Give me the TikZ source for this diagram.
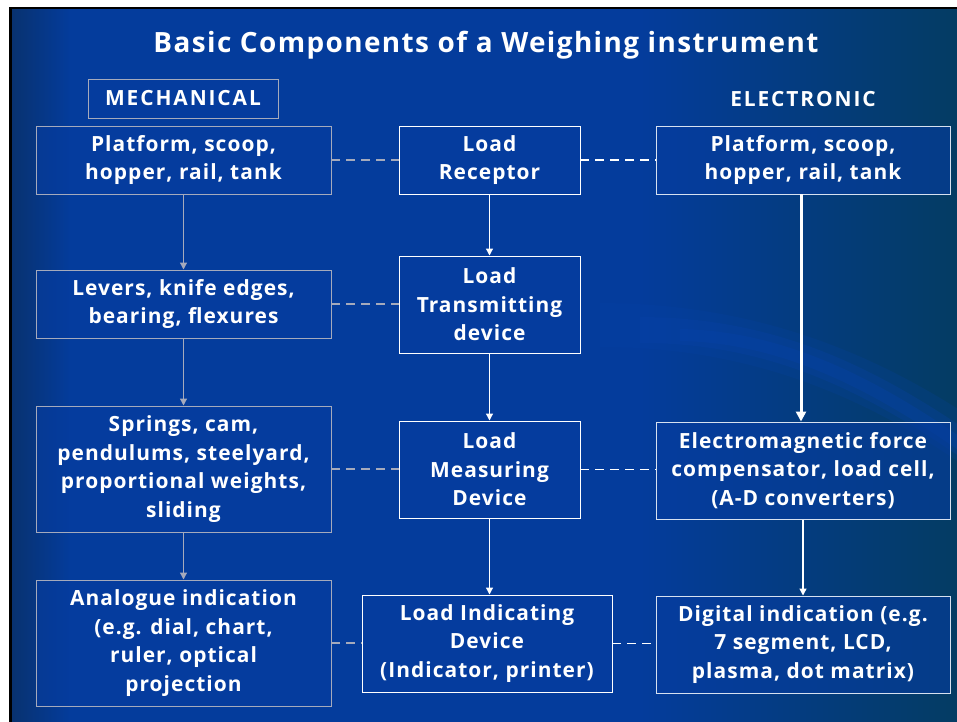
\documentclass[tikz,border=0pt]{standalone}
\usepackage{fontspec}
\setmainfont{Open Sans}[LetterSpace=5]
\usetikzlibrary{arrows.meta}

\definecolor{bgdark}{RGB}{8,50,112}
\definecolor{bgmid}{RGB}{4,60,156}
\definecolor{bgteal}{RGB}{4,60,98}
\definecolor{bgstreak}{RGB}{8,66,172}
\definecolor{mechline}{RGB}{165,170,188}
\definecolor{elecline}{RGB}{215,225,240}
\definecolor{boxfill}{RGB}{6,60,160}

\newcommand{\wbfont}{\fontsize{21}{28.5}\selectfont\bfseries}
\newcommand{\capsfont}{\fontsize{21}{24}\selectfont\bfseries\addfontfeatures{LetterSpace=9}}

\tikzset{
  basebox/.style={rectangle, inner sep=0pt, align=center, text=white,
    fill=boxfill, fill opacity=0.6, text opacity=1, line width=1pt, font=\wbfont},
  mechbox/.style={basebox, draw=mechline},
  corebox/.style={basebox, draw=white},
  elecbox/.style={basebox, draw=elecline},
  mecharrow/.style={draw=mechline, line width=1.3pt, -{Triangle[length=7pt,width=7pt]}},
  corearrow/.style={draw=white, line width=1.3pt, -{Triangle[length=7pt,width=7pt]}},
  thickarrow/.style={draw=white, line width=3pt, -{Triangle[length=10pt,width=10pt]}},
  mechlink/.style={draw=mechline, line width=1.3pt, dash pattern=on 9pt off 6pt},
  eleclink/.style={draw=white, line width=1.3pt, dash pattern=on 9pt off 6pt},
}

\begin{document}
\begin{tikzpicture}[x=1bp,y=-1bp]
  \useasboundingbox (0,0) rectangle (957,722);
  % page and slide frame (the slide runs past the right and bottom edges)
  \fill[white] (0,0) rectangle (957,722);
  \fill[black] (9,7) rectangle (965,730);
  % slide backdrop: darker left edge, plain blue middle, teal right side
  \shade[left color=bgdark, right color=bgmid] (12,10) rectangle (71,730);
  \shade[left color=bgmid, right color=bgmid] (70,10) rectangle (641,730);
  \shade[left color=bgmid, right color=bgteal] (640,10) rectangle (965,730);
  % soft bright streak sweeping across the right side
  \begin{scope}
    \clip (12,10) rectangle (965,730);
    \draw[bgstreak, line width=44pt, opacity=0.18] (600,325) .. controls (760,325) and (880,380) .. (980,450);
    \draw[bgstreak, line width=26pt, opacity=0.25] (640,330) .. controls (780,330) and (880,385) .. (980,455);
    \draw[bgstreak, line width=12pt, opacity=0.3] (680,335) .. controls (790,337) and (885,390) .. (980,458);
  \end{scope}

  % headings
  \node[text=white, font=\fontsize{28}{32}\selectfont\bfseries] (title) at (486,45) {Basic Components of a Weighing instrument};
  \node[mechbox, minimum width=190bp, minimum height=39bp, font=\capsfont] (mech) at (183,98.5) {MECHANICAL};
  \node[text=white, font=\capsfont] (elec) at (803,99) {ELECTRONIC};

  % mechanical column
  \node[mechbox, minimum width=295bp, minimum height=68bp] (L1) at (183.5,160) {Platform, scoop,\\hopper, rail, tank};
  \node[mechbox, minimum width=295bp, minimum height=68bp] (L2) at (183.5,304) {Levers, knife edges,\\bearing, flexures};
  \node[mechbox, minimum width=295bp, minimum height=126bp] (L3) at (183.5,469) {Springs, cam,\\pendulums, steelyard,\\proportional weights,\\sliding};
  \node[mechbox, minimum width=295bp, minimum height=126bp] (L4) at (183.5,643) {Analogue indication\\(e.g. dial, chart,\\ruler, optical\\projection};

  % generic components
  \node[corebox, minimum width=181bp, minimum height=68bp] (M1) at (489.5,160) {Load\\Receptor};
  \node[corebox, minimum width=181bp, minimum height=97bp] (M2) at (489.5,304.5) {Load\\Transmitting\\device};
  \node[corebox, minimum width=181bp, minimum height=97bp] (M3) at (489.5,469.5) {Load\\Measuring\\Device};
  \node[corebox, minimum width=250bp, minimum height=97bp] (M4) at (487,643.5) {Load Indicating\\Device\\(Indicator, printer)};

  % electronic column
  \node[elecbox, minimum width=294bp, minimum height=68bp] (R1) at (803,160) {Platform, scoop,\\hopper, rail, tank};
  \node[elecbox, minimum width=294bp, minimum height=97bp] (R2) at (803,470.5) {Electromagnetic force\\compensator, load cell,\\(A-D converters)};
  \node[elecbox, minimum width=294bp, minimum height=97bp] (R3) at (803,644.5) {Digital indication (e.g.\\7 segment, LCD,\\plasma, dot matrix)};

  % flow arrows
  \draw[mecharrow] (L1.south) -- (L2.north);
  \draw[mecharrow] (L2.south) -- (L3.north);
  \draw[mecharrow] (L3.south) -- (L4.north);
  \draw[corearrow] (M1.south) -- (M2.north);
  \draw[corearrow] (M2.south) -- (M3.north);
  \draw[corearrow] (M3.south) -- (M3.south |- M4.north);
  \draw[thickarrow] ([xshift=-2bp]R1.south) -- ([xshift=-2bp]R1.south |- R2.north);
  \draw[corearrow] (R2.south) -- (R3.north);

  % correspondence links
  \draw[mechlink] (L1.east) -- (M1.west);
  \draw[mechlink] (L2.east) -- (L2.east -| M2.west);
  \draw[mechlink] (L3.east) -- (L3.east -| M3.west);
  \draw[mechlink] (L4.east) -- (L4.east -| M4.west);
  \draw[eleclink] (M1.east) -- (M1.east -| R1.west);
  \draw[eleclink] (M3.east) -- (M3.east -| R2.west);
  \draw[eleclink] (M4.east) -- (M4.east -| R3.west);
\end{tikzpicture}
\end{document}
